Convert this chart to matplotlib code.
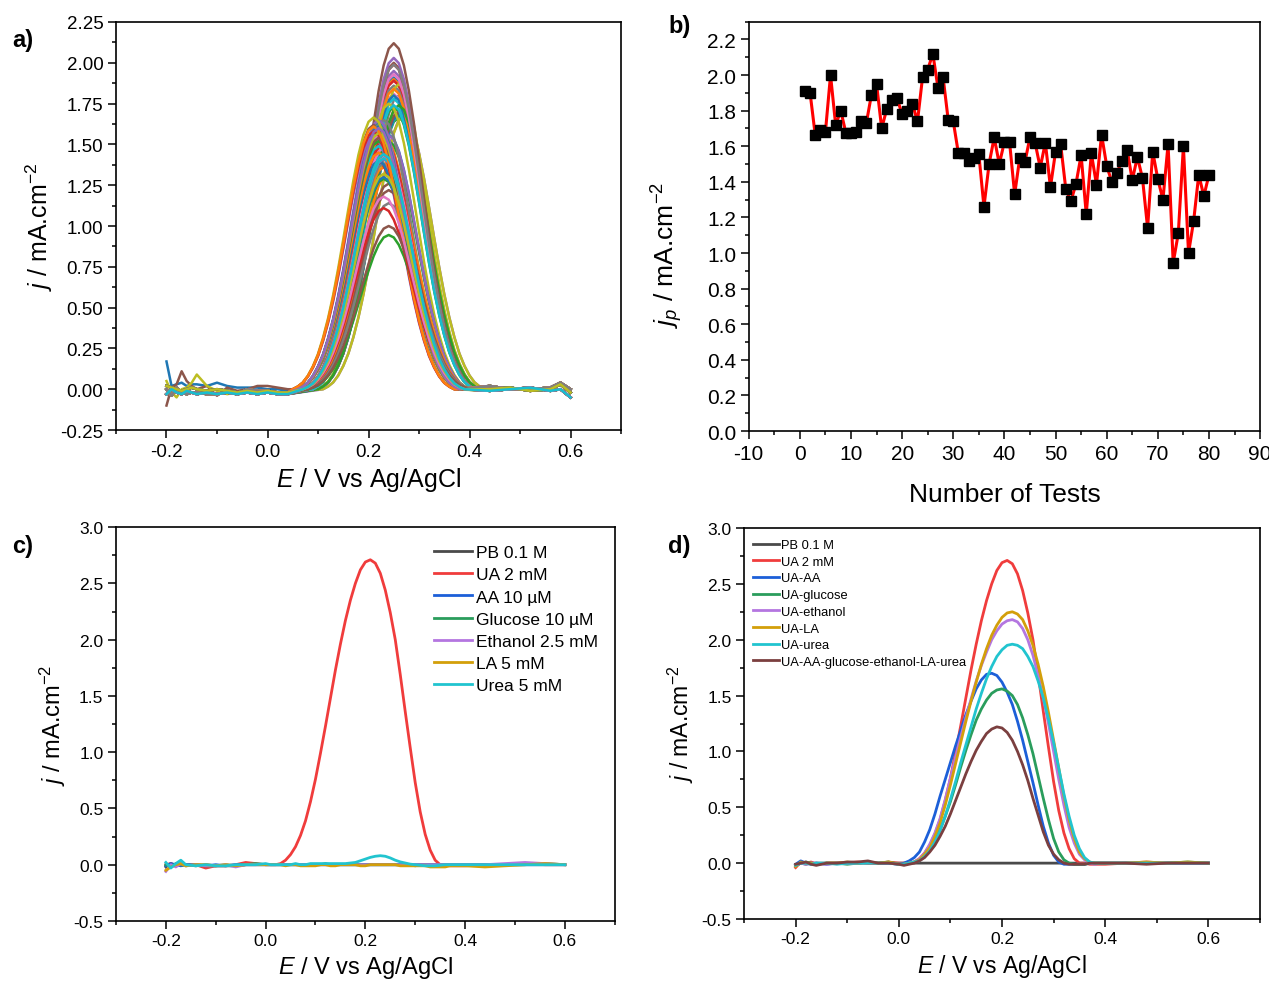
import matplotlib
matplotlib.use("Agg")
import matplotlib.pyplot as plt
import matplotlib.ticker as mticker
import numpy as np

plt.rcParams["font.family"] = ["Liberation Sans", "DejaVu Sans"]
plt.rcParams["mathtext.fontset"] = "custom"
plt.rcParams["mathtext.rm"] = "Liberation Sans"
plt.rcParams["mathtext.it"] = "Liberation Sans:italic"
plt.rcParams["axes.unicode_minus"] = False

# ---------------- panel b: peak current of every test ----------------
test_no = list(range(1, 81))
jp = [1.91, 1.90, 1.665, 1.69, 1.68, 2.00, 1.72, 1.80, 1.675, 1.675,
      1.68, 1.74, 1.73, 1.89, 1.95, 1.70, 1.81, 1.86, 1.87, 1.78,
      1.80, 1.84, 1.74, 1.99, 2.03, 2.12, 1.93, 1.99, 1.75, 1.74,
      1.56, 1.56, 1.52, 1.535, 1.555, 1.26, 1.50, 1.65, 1.50, 1.625,
      1.625, 1.33, 1.535, 1.51, 1.65, 1.62, 1.48, 1.62, 1.37, 1.57,
      1.61, 1.36, 1.29, 1.39, 1.55, 1.22, 1.56, 1.385, 1.665, 1.49,
      1.40, 1.45, 1.52, 1.58, 1.41, 1.54, 1.42, 1.14, 1.57, 1.415,
      1.30, 1.61, 0.945, 1.11, 1.60, 1.00, 1.18, 1.44, 1.32, 1.44]

# ---------------- panel a: DPV of the 80 tests ----------------
# peak potentials estimated from the overlay (V)
ep_a = [0.25, 0.25, 0.26, 0.26, 0.27, 0.25, 0.26, 0.26, 0.27, 0.26,
        0.26, 0.26, 0.25, 0.25, 0.25, 0.26, 0.25, 0.25, 0.26, 0.25,
        0.25, 0.25, 0.26, 0.25, 0.25, 0.25, 0.25, 0.25, 0.24, 0.25,
        0.24, 0.23, 0.24, 0.23, 0.24, 0.24, 0.23, 0.23, 0.23, 0.22,
        0.22, 0.24, 0.22, 0.23, 0.22, 0.21, 0.23, 0.22, 0.23, 0.22,
        0.22, 0.23, 0.23, 0.22, 0.21, 0.24, 0.22, 0.23, 0.21, 0.22,
        0.22, 0.22, 0.22, 0.21, 0.23, 0.22, 0.23, 0.24, 0.22, 0.23,
        0.23, 0.21, 0.24, 0.23, 0.22, 0.24, 0.23, 0.23, 0.23, 0.23]
# normalised peak shape read from the overlay (offset from peak, V)
peak_off = [-0.16, -0.15, -0.14, -0.13, -0.12, -0.11, -0.10, -0.09, -0.08, -0.07,
            -0.06, -0.05, -0.04, -0.03, -0.02, -0.01, 0.00, 0.01, 0.02, 0.03,
            0.04, 0.05, 0.06, 0.07, 0.08, 0.09, 0.10, 0.11, 0.12, 0.13,
            0.14, 0.15, 0.16]
peak_shape = [0.00, 0.01, 0.025, 0.05, 0.085, 0.13, 0.19, 0.262, 0.347, 0.445,
              0.552, 0.662, 0.768, 0.862, 0.936, 0.984, 1.0, 0.984, 0.936, 0.862,
              0.768, 0.662, 0.552, 0.445, 0.347, 0.262, 0.19, 0.13, 0.085, 0.05,
              0.025, 0.01, 0.00]
# baseline before and after the peak
base_left_E = [-0.20, -0.19, -0.18, -0.17, -0.16, -0.15, -0.14, -0.12,
               -0.10, -0.08, -0.06, -0.04, -0.02, 0.00, 0.02, 0.04]
base_left = [
    [0.02, 0.01, 0.00, -0.01, 0.00, 0.01, 0.00, -0.01, 0.00, -0.01, -0.02, -0.01, -0.02, -0.01, -0.02, -0.02],
    [-0.03, 0.00, -0.02, -0.03, -0.01, -0.02, -0.03, -0.02, -0.03, -0.02, -0.03, -0.02, -0.03, -0.02, -0.03, -0.03],
    [0.00, -0.04, 0.01, -0.02, -0.03, -0.02, -0.02, -0.03, -0.03, -0.02, -0.03, 0.00, -0.01, -0.01, -0.02, -0.02],
    [0.17, 0.02, 0.03, 0.04, 0.02, 0.03, 0.03, 0.02, 0.04, 0.02, 0.01, 0.01, 0.01, 0.00, 0.00, -0.01],
    [-0.10, 0.01, 0.03, 0.11, 0.05, 0.02, 0.00, 0.02, -0.04, 0.01, -0.01, 0.00, 0.02, 0.02, 0.01, 0.00],
    [0.05, -0.02, -0.05, 0.00, 0.01, 0.04, 0.09, 0.02, -0.01, -0.03, -0.02, -0.01, -0.02, -0.01, -0.02, -0.02],
]
base_right_E = [0.44, 0.48, 0.52, 0.56, 0.58, 0.60]
base_right = [
    [0.00, 0.01, -0.01, 0.00, 0.03, -0.02],
    [-0.01, 0.00, 0.01, -0.01, 0.00, -0.05],
    [0.02, 0.00, 0.00, 0.01, 0.04, 0.00],
]

# ---------------- panels c and d ----------------
E = [-0.20, -0.19, -0.18, -0.17, -0.16, -0.14, -0.12, -0.10, -0.08, -0.06, -0.04, -0.02,
     0.00, 0.01, 0.02, 0.03, 0.04, 0.05, 0.06, 0.07, 0.08, 0.09,
     0.10, 0.11, 0.12, 0.13, 0.14, 0.15, 0.16, 0.17, 0.18, 0.19,
     0.20, 0.21, 0.22, 0.23, 0.24, 0.25, 0.26, 0.27, 0.28, 0.29,
     0.30, 0.31, 0.32, 0.33, 0.34, 0.35, 0.36, 0.37, 0.38, 0.39, 0.40,
     0.44, 0.48, 0.52, 0.56, 0.60]

ua_peak = [0.00, 0.00, 0.00, 0.01, 0.04, 0.09, 0.16, 0.26, 0.39, 0.56,
           0.76, 0.99, 1.23, 1.48, 1.73, 1.96, 2.17, 2.35, 2.50, 2.62,
           2.69, 2.71, 2.68, 2.59, 2.44, 2.24, 2.00, 1.69, 1.36, 1.04,
           0.73, 0.47, 0.27, 0.13, 0.04, 0.00, 0.00, -0.01, -0.01, -0.01, -0.01]
flat_mid = [0.00] * 41

c_labels = ["PB 0.1 M", "UA 2 mM", "AA 10 µM", "Glucose 10 µM",
            "Ethanol 2.5 mM", "LA 5 mM", "Urea 5 mM"]
c_pb = ([-0.02, 0.01, -0.01, 0.00, 0.00, -0.01, 0.00, -0.01, -0.01, -0.01, 0.00, 0.00]
        + flat_mid + [0.00, 0.00, 0.00, 0.00, 0.00])
c_ua = ([0.00, 0.01, -0.01, 0.01, 0.00, 0.00, -0.03, -0.01, -0.01, 0.00, 0.02, 0.01]
        + ua_peak + [0.00, 0.00, 0.01, 0.00, 0.00])
c_aa = ([-0.01, 0.01, 0.00, -0.01, 0.00, 0.00, -0.01, 0.00, -0.01, 0.00, 0.00, 0.00]
        + flat_mid + [0.00, 0.00, 0.00, 0.00, 0.00])
c_glu = ([0.00, -0.02, 0.01, 0.00, -0.01, 0.00, -0.01, -0.01, 0.00, -0.01, 0.00, 0.01]
         + [0.00, 0.00, 0.00, 0.00, 0.00, 0.00, 0.00, 0.00, 0.00, 0.00,
            0.00, 0.00, 0.01, 0.00, 0.00, 0.00, 0.00, 0.00, 0.00, 0.00,
            0.00, 0.00, 0.00, 0.00, 0.00, 0.00, 0.00, 0.00, 0.00, 0.00,
            -0.01, 0.00, 0.00, 0.00, 0.00, 0.00, 0.00, 0.00, 0.00, 0.00, 0.00]
         + [0.00, 0.00, 0.00, 0.01, 0.00])
c_eth = ([-0.06, 0.00, -0.02, 0.01, -0.01, 0.00, -0.01, -0.01, 0.00, -0.02, 0.00, 0.00]
         + flat_mid + [0.00, 0.01, 0.02, 0.01, 0.00])
c_la = ([-0.05, -0.02, 0.00, 0.01, -0.01, 0.00, 0.00, -0.01, 0.00, -0.01, 0.00, 0.00]
        + [0.00, 0.00, 0.00, 0.00, -0.01, 0.00, 0.00, -0.01, -0.01, -0.01,
           -0.01, 0.00, 0.00, -0.01, -0.01, 0.00, 0.00, 0.00, 0.00, -0.01,
           -0.01, 0.00, 0.00, 0.00, 0.00, 0.00, 0.00, -0.01, -0.01, -0.01,
           -0.01, -0.01, -0.01, -0.02, -0.02, -0.02, -0.02, -0.01, -0.01, -0.01, -0.01]
        + [-0.02, -0.01, 0.00, 0.01, 0.00])
c_urea = ([0.02, -0.03, 0.01, 0.04, 0.00, -0.01, 0.00, -0.01, -0.01, 0.00, 0.00, 0.00]
          + [0.01, 0.00, 0.00, 0.00, 0.00, 0.00, 0.01, 0.00, 0.00, 0.01,
             0.01, 0.01, 0.01, 0.01, 0.01, 0.01, 0.01, 0.015, 0.02, 0.035,
             0.05, 0.065, 0.075, 0.08, 0.075, 0.06, 0.04, 0.025, 0.015, 0.005,
             0.00, -0.005, -0.01, -0.01, -0.01, -0.005, 0.00, 0.00, 0.00, 0.00, 0.00]
          + [0.00, 0.00, 0.00, 0.00, 0.00])

d_labels = ["PB 0.1 M", "UA 2 mM", "UA-AA", "UA-glucose", "UA-ethanol",
            "UA-LA", "UA-urea", "UA-AA-glucose-ethanol-LA-urea"]
d_pb = ([-0.02, 0.00, -0.01, 0.00, 0.00, 0.00, 0.00, 0.00, 0.00, 0.00, 0.00, 0.00]
        + flat_mid + [0.00, 0.00, 0.00, 0.00, 0.00])
d_ua = ([-0.04, 0.01, 0.00, 0.01, -0.01, 0.00, 0.00, 0.00, 0.01, 0.00, 0.00, 0.01]
        + ua_peak + [0.00, 0.01, 0.00, 0.00, 0.00])
d_aa = ([-0.01, 0.02, 0.00, -0.01, 0.00, -0.01, 0.00, 0.00, 0.00, 0.01, 0.00, 0.00]
        + [-0.01, 0.00, 0.02, 0.05, 0.10, 0.19, 0.30, 0.44, 0.60, 0.75,
           0.90, 1.05, 1.19, 1.33, 1.45, 1.56, 1.64, 1.69, 1.70, 1.68,
           1.62, 1.53, 1.42, 1.27, 1.10, 0.91, 0.72, 0.52, 0.33, 0.18,
           0.07, 0.01, -0.01, -0.01, -0.01, -0.01, -0.01, 0.00, 0.00, 0.00, 0.00]
        + [0.00, 0.00, 0.00, 0.00, 0.00])
d_glu = ([-0.02, 0.00, 0.01, 0.00, -0.01, 0.00, 0.00, -0.01, 0.00, 0.01, 0.00, 0.01]
         + [-0.01, -0.01, 0.00, 0.01, 0.03, 0.07, 0.13, 0.21, 0.30, 0.42,
            0.55, 0.70, 0.86, 1.01, 1.15, 1.28, 1.38, 1.46, 1.52, 1.55,
            1.56, 1.54, 1.50, 1.42, 1.30, 1.15, 0.98, 0.78, 0.58, 0.39,
            0.22, 0.10, 0.03, 0.00, -0.01, -0.01, -0.01, 0.00, 0.00, 0.00, 0.00]
         + [0.00, 0.00, 0.00, 0.01, 0.00])
d_eth = ([-0.02, 0.00, -0.01, 0.00, 0.00, -0.01, 0.00, 0.00, 0.00, 0.01, 0.00, 0.00]
         + [-0.01, -0.01, 0.00, 0.01, 0.04, 0.09, 0.17, 0.27, 0.40, 0.57,
            0.76, 0.95, 1.13, 1.30, 1.47, 1.63, 1.77, 1.89, 2.00, 2.08,
            2.14, 2.17, 2.18, 2.16, 2.10, 2.00, 1.86, 1.68, 1.48, 1.25,
            1.00, 0.75, 0.52, 0.32, 0.18, 0.08, 0.03, 0.00, -0.01, 0.00, 0.00]
         + [0.00, 0.00, 0.00, 0.00, 0.00])
d_la = ([-0.03, 0.01, 0.00, 0.00, -0.01, 0.00, 0.00, 0.01, 0.00, 0.01, 0.00, 0.01]
        + [-0.01, -0.01, 0.00, 0.01, 0.03, 0.08, 0.14, 0.24, 0.36, 0.52,
           0.70, 0.89, 1.08, 1.27, 1.45, 1.62, 1.78, 1.92, 2.04, 2.13,
           2.20, 2.24, 2.25, 2.23, 2.18, 2.08, 1.95, 1.78, 1.58, 1.35,
           1.10, 0.85, 0.60, 0.39, 0.22, 0.10, 0.04, 0.01, 0.00, 0.00, 0.00]
        + [0.00, 0.01, 0.00, 0.01, 0.00])
d_urea = ([-0.02, 0.00, 0.00, -0.01, 0.00, 0.00, -0.01, 0.00, 0.00, 0.00, 0.00, 0.00]
          + [-0.01, -0.01, 0.00, 0.01, 0.02, 0.06, 0.11, 0.19, 0.29, 0.42,
             0.57, 0.73, 0.90, 1.06, 1.22, 1.38, 1.52, 1.65, 1.76, 1.85,
             1.91, 1.95, 1.96, 1.95, 1.92, 1.85, 1.76, 1.63, 1.48, 1.29,
             1.08, 0.85, 0.62, 0.42, 0.25, 0.13, 0.05, 0.01, 0.00, 0.00, 0.00]
          + [0.00, 0.00, 0.00, 0.00, 0.00])
d_mix = ([-0.01, 0.00, 0.01, -0.01, -0.02, 0.00, 0.00, 0.01, 0.01, 0.02, 0.00, 0.00]
         + [-0.01, -0.02, -0.01, 0.00, 0.02, 0.05, 0.10, 0.16, 0.24, 0.33,
            0.44, 0.56, 0.68, 0.80, 0.91, 1.01, 1.09, 1.16, 1.20, 1.22,
            1.21, 1.17, 1.10, 1.00, 0.88, 0.74, 0.58, 0.43, 0.28, 0.16,
            0.08, 0.03, 0.00, -0.01, -0.01, -0.01, -0.01, 0.00, 0.00, 0.00, 0.00]
         + [0.00, -0.01, 0.00, 0.00, 0.00])

c_series = [c_pb, c_ua, c_aa, c_glu, c_eth, c_la, c_urea]
d_series = [d_pb, d_ua, d_aa, d_glu, d_eth, d_la, d_urea, d_mix]
cd_colors = ["#4a4a4a", "#f03c3c", "#1c5fd8", "#2a9d5c", "#b476e0",
             "#d39f0a", "#21c4cf", "#7b3f3f"]


def style_axis(ax, tick_fs):
    for s in ax.spines.values():
        s.set_linewidth(1.2)
    ax.tick_params(which="both", direction="out", top=False, right=False,
                   labelsize=tick_fs, width=1.1)
    ax.tick_params(which="major", length=5.5)
    ax.tick_params(which="minor", length=3)


def volt_axis(ax, ymaj, ymin, yfmt):
    ax.set_xlim(-0.3, 0.7)
    ax.xaxis.set_major_locator(mticker.MultipleLocator(0.2))
    ax.xaxis.set_minor_locator(mticker.MultipleLocator(0.1))
    ax.yaxis.set_major_locator(mticker.MultipleLocator(ymaj))
    ax.yaxis.set_minor_locator(mticker.MultipleLocator(ymin))
    ax.yaxis.set_major_formatter(mticker.FormatStrFormatter(yfmt))
    ax.xaxis.set_major_formatter(mticker.FormatStrFormatter("%.1f"))


fig = plt.figure(figsize=(12.69, 9.87), dpi=100)
ax_a = fig.add_axes([0.0914, 0.5633, 0.398, 0.4134])
ax_b = fig.add_axes([0.590, 0.5623, 0.403, 0.4147])
ax_c = fig.add_axes([0.0914, 0.0659, 0.393, 0.399])
ax_d = fig.add_axes([0.5863, 0.0679, 0.4066, 0.3961])

# ---- a ----
colors = plt.rcParams["axes.prop_cycle"].by_key()["color"]
bl_E = np.array(base_left_E)
br_E = np.array(base_right_E)
off = np.array(peak_off)
shape = np.array(peak_shape)
special = {0: 3, 5: 4, 8: 5}
for i, (h, ep) in enumerate(zip(jp, ep_a)):
    wl = np.array(base_left[special.get(i, i % 3)])
    wr = np.array(base_right[i % 3])
    ml = bl_E < ep + off[0] - 1e-6
    mr = br_E > ep + off[-1] + 1e-6
    x = np.concatenate([bl_E[ml], ep + off, br_E[mr]])
    y = np.concatenate([wl[ml], h * shape, wr[mr]])
    ax_a.plot(x, y, color=colors[i % len(colors)], lw=1.8)
volt_axis(ax_a, 0.25, 0.125, "%.2f")
ax_a.set_ylim(-0.25, 2.25)
style_axis(ax_a, 13.5)
ax_a.set_xlabel("$E$ / V vs Ag/AgCl", fontsize=18)
ax_a.set_ylabel("$j$ / mA.cm$^{-2}$", fontsize=18)

# ---- b ----
ax_b.plot(test_no, jp, color="#ff0000", lw=2.2, zorder=2)
ax_b.plot(test_no, jp, ls="none", marker="s", ms=7.5, color="black", zorder=3)
ax_b.set_xlim(-10, 90)
ax_b.set_ylim(0, 2.3)
ax_b.xaxis.set_major_locator(mticker.MultipleLocator(10))
ax_b.xaxis.set_minor_locator(mticker.MultipleLocator(5))
ax_b.yaxis.set_major_locator(mticker.MultipleLocator(0.2))
ax_b.yaxis.set_minor_locator(mticker.MultipleLocator(0.1))
ax_b.yaxis.set_major_formatter(mticker.FormatStrFormatter("%.1f"))
style_axis(ax_b, 15)
ax_b.set_xlabel("Number of Tests", fontsize=19, labelpad=14)
ax_b.set_ylabel("$j_p$ / mA.cm$^{-2}$", fontsize=19)
ax_b.yaxis.set_label_coords(-0.125, 0.432)

# ---- c ----
for lab, ys, col in zip(c_labels, c_series, cd_colors):
    ax_c.plot(E, ys, color=col, lw=2, label=lab)
volt_axis(ax_c, 0.5, 0.25, "%.1f")
ax_c.set_ylim(-0.5, 3.0)
style_axis(ax_c, 12.5)
ax_c.set_xlabel("$E$ / V vs Ag/AgCl", fontsize=17)
ax_c.set_ylabel("$j$ / mA.cm$^{-2}$", fontsize=17)
ax_c.legend(loc="upper right", bbox_to_anchor=(0.99, 0.985), frameon=False,
            fontsize=12.5, handlelength=2.2, handletextpad=0.2,
            labelspacing=0.4, borderaxespad=0.3)

# ---- d ----
for lab, ys, col in zip(d_labels, d_series, cd_colors):
    ax_d.plot(E, ys, color=col, lw=2, label=lab)
volt_axis(ax_d, 0.5, 0.25, "%.1f")
ax_d.set_ylim(-0.5, 3.0)
style_axis(ax_d, 12.5)
ax_d.set_xlabel("$E$ / V vs Ag/AgCl", fontsize=16.5)
ax_d.set_ylabel("$j$ / mA.cm$^{-2}$", fontsize=16.5)
ax_d.legend(loc="upper left", bbox_to_anchor=(0.0, 0.995), frameon=False,
            fontsize=9.3, handlelength=2.0, handletextpad=0.2,
            labelspacing=0.36, borderaxespad=0.3)

# panel letters
for lab, (px, py) in zip(["a)", "b)", "c)", "d)"],
                         [(12, 40), (668, 27), (12, 547), (668, 547)]):
    fig.text(px / 1269, 1 - py / 987, lab, fontsize=17, fontweight="bold",
             va="center", ha="left")

fig.savefig("out.png", dpi=100)
